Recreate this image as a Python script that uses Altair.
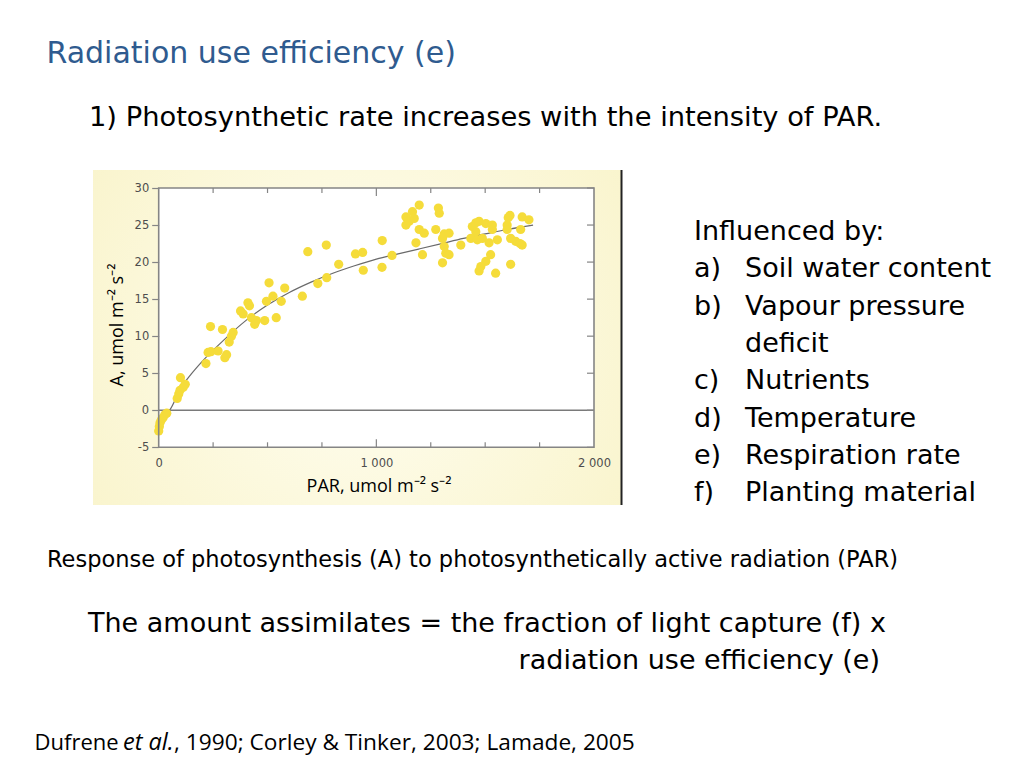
import altair as alt
import pandas as pd

# ---------------- data ----------------
par = [0, 3, 6, 12, 20, 28, 37,
       85, 92, 98, 113, 122, 100,
       217, 227, 240, 238, 273, 293, 304, 312, 324, 334, 342, 376, 388, 410, 417, 426,
       441, 449, 487, 495, 507, 525, 540, 563, 579, 660,
       685, 731, 770, 772, 827, 904, 937, 940, 1027, 1026, 1072,
       1136, 1136, 1151, 1166, 1174, 1197, 1197, 1220, 1182, 1212, 1273, 1285, 1289,
       1304, 1312, 1312, 1319, 1334, 1334, 1304, 1388, 1441, 1457, 1472, 1503, 1533,
       1457, 1434, 1464, 1487, 1518, 1556, 1533, 1525, 1503, 1480, 1472, 1548,
       1601, 1606, 1614, 1601, 1617, 1640, 1660, 1670, 1617, 1670, 1701, 1663]
photo = [-2.8, -2.2, -1.7, -1.3, -1.0, -0.6, -0.4,
         1.6, 2.2, 2.7, 3.1, 3.5, 4.4,
         6.3, 7.8, 7.9, 11.3, 8.0, 10.9, 7.1, 7.5, 9.2, 10.0, 10.5, 13.4, 13.0, 14.5, 14.1, 12.5,
         11.6, 12.1, 12.1, 14.7, 17.2, 15.4, 12.5, 14.7, 16.5, 15.4,
         21.4, 17.1, 22.3, 17.9, 19.7, 21.1, 21.3, 18.9, 22.9, 19.3, 20.9,
         26.1, 25.0, 25.5, 26.8, 25.9, 27.7, 24.4, 23.9, 22.6, 21.0, 24.4, 27.3, 26.6,
         23.2, 23.8, 22.1, 21.2, 23.9, 21.0, 19.9, 22.3, 24.8, 25.3, 25.5, 25.2, 25.0,
         24.1, 23.2, 23.0, 23.2, 22.6, 23.0, 24.4, 21.0, 20.1, 19.4, 18.8, 18.5,
         25.0, 26.0, 26.3, 24.4, 23.2, 22.8, 22.5, 22.3, 19.7, 26.1, 25.7, 24.4]

curve_par = [30, 50, 100, 150, 200, 300, 400, 500, 600, 700, 800, 900, 1000,
             1100, 1200, 1300, 1400, 1500, 1600, 1720]
curve_a = [-0.5, 0.0, 2.9, 4.9, 6.6, 9.5, 12.1, 14.2, 15.9, 17.3, 18.5, 19.5, 20.4,
           21.1, 21.8, 22.5, 23.2, 23.8, 24.4, 25.0]

x_label_values = [0, 1000, 2000]
x_label_texts = ["0", "1 000", "2 000"]
x_minor_ticks = [250, 500, 750, 1250, 1500, 1750]
x_major_ticks = [1000]
y_tick_values = [-5, 0, 5, 10, 15, 20, 25, 30]
zero_line = [0]

title_text = "Radiation use efficiency (e)"
subtitle_text = "1) Photosynthetic rate increases with the intensity of PAR."
list_head = "Influenced by:"
list_marks = ["a)", "b)", "", "c)", "d)", "e)", "f)"]
list_items = ["Soil water content", "Vapour pressure", "deficit", "Nutrients",
              "Temperature", "Respiration rate", "Planting material"]
caption_text = "Response of photosynthesis (A) to photosynthetically active radiation (PAR)"
eq_line1 = "The amount assimilates = the fraction of light capture (f) x"
eq_line2 = "radiation use efficiency (e)"
cite_parts = ["Dufrene ", "et al.", ", 1990; Corley & Tinker, 2003; Lamade, 2005"]
y_title = "A, umol m\u207b\u00b2 s\u207b\u00b2"
x_title = "PAR, umol m\u207b\u00b2 s\u207b\u00b2"

# ---------------- layout (page pixels) ----------------
X0, Y0 = 158.7, 188.0        # plot origin on the page
W, H = 435.3, 259.3          # plot area
TOTAL_W, TOTAL_H = 1000, 750


def X(px):
    return px - X0


def Y(py):
    return py - Y0


one = pd.DataFrame({"k": [0]})
xs = alt.Scale(domain=[0, 2000], nice=False, zero=False)
ys = alt.Scale(domain=[-5, 30], nice=False, zero=False)

SANS = "DejaVu Sans"
CAL = "Open Sans"
GRAY = "#858585"
LABEL = "#4d4d4d"

label_expr = " : ".join(
    f"datum.value == {v} ? '{t}'" for v, t in zip(x_label_values[:-1], x_label_texts[:-1])
) + f" : '{x_label_texts[-1]}'"

x_axis = alt.Axis(values=x_label_values, labelExpr=label_expr, ticks=False, domain=False,
                  grid=False, labelFont=SANS, labelFontSize=11.5, labelColor=LABEL,
                  labelPadding=10, labelFlush=False, title="", zindex=5)
y_axis = alt.Axis(values=y_tick_values, labelExpr="datum.value + ''", tickSize=7,
                  tickColor=GRAY, tickWidth=1.2, domain=False, grid=False, labelFont=SANS,
                  labelFontSize=11.5, labelColor=LABEL, labelPadding=3, labelFlush=False,
                  title="", zindex=5)


def XF(field):
    return alt.X(field, scale=xs, axis=x_axis)


def YF(field):
    return alt.Y(field, scale=ys, axis=y_axis)


def txt(s, x, y, size, font=SANS, color="#000000", align="left", angle=0,
        style="normal", baseline="alphabetic"):
    return alt.Chart(one).mark_text(
        text=s, font=font, fontSize=size, color=color, align=align, angle=angle,
        fontStyle=style, baseline=baseline
    ).encode(x=alt.value(X(x)), y=alt.value(Y(y)))


# background panel of the figure
panel = alt.Chart(one).mark_rect(
    color={"gradient": "radial", "x1": 0.5, "y1": 0.5, "r1": 0.0,
           "x2": 0.5, "y2": 0.5, "r2": 0.75,
           "stops": [{"offset": 0, "color": "#fffef2"},
                     {"offset": 1, "color": "#f8f2c4"}]}
).encode(x=alt.value(X(93)), x2=alt.value(X(621)), y=alt.value(Y(170)), y2=alt.value(Y(505)))
edge = alt.Chart(one).mark_rule(color="#222222", strokeWidth=2).encode(
    x=alt.value(X(621.5)), y=alt.value(Y(170)), y2=alt.value(Y(505)))
plotbg = alt.Chart(one).mark_rect(color="white").encode(
    x=alt.value(0), x2=alt.value(W), y=alt.value(0), y2=alt.value(H))

zero = alt.Chart(pd.DataFrame({"v": zero_line})).mark_rule(color="#7a7a7a", strokeWidth=1.6).encode(
    y=YF("v:Q"), x=alt.value(0), x2=alt.value(W))

curve = alt.Chart(pd.DataFrame({"par": curve_par, "a": curve_a})).mark_line(
    color="#6a6a6a", strokeWidth=1.2, interpolate="monotone"
).encode(x=XF("par:Q"), y=YF("a:Q"))

points = alt.Chart(pd.DataFrame({"par": par, "a": photo})).mark_circle(
    color="#F5DC3A", opacity=1, size=85
).encode(x=XF("par:Q"), y=YF("a:Q"))

frame = alt.Chart(one).mark_rect(fillOpacity=0, stroke=GRAY, strokeWidth=1.6).encode(
    x=alt.value(0), x2=alt.value(W), y=alt.value(0), y2=alt.value(H))


def xticks(vals, y1, y2):
    return alt.Chart(pd.DataFrame({"par": vals})).mark_rule(color=GRAY, strokeWidth=1.2).encode(
        x=XF("par:Q"), y=alt.value(y1), y2=alt.value(y2))


ticks = [
    xticks(x_minor_ticks, 0, 5), xticks(x_major_ticks, 0, 8),
    xticks(x_minor_ticks, H, H - 5), xticks(x_major_ticks, H, H - 8),
    alt.Chart(pd.DataFrame({"a": y_tick_values})).mark_rule(color=GRAY, strokeWidth=1.2).encode(
        y=YF("a:Q"), x=alt.value(W), x2=alt.value(W - 7)),
]

texts = [
    txt(title_text, 46.5, 62.5, 30, color="#2f5b8f"),
    txt(subtitle_text, 89, 126, 27.3),
    txt(list_head, 694, 240, 27),
    txt(caption_text, 47, 567, 22.5),
    txt(eq_line1, 88, 632, 27),
    txt(eq_line2, 880, 669, 27, align="right"),
    txt(cite_parts[0], 34.6, 750, 22, font=CAL),
    txt(cite_parts[1], 123, 750, 23.5, font=CAL, style="italic"),
    txt(cite_parts[2], 174, 750, 22.7, font=CAL),
    txt(y_title, 118, 325, 18, font=CAL, angle=270, align="center", baseline="middle"),
    txt(x_title, 379, 487, 18, font=CAL, align="center", baseline="middle"),
]
for i, (m, it) in enumerate(zip(list_marks, list_items)):
    yb = 277.3 + i * 37.33
    if m:
        texts.append(txt(m, 694, yb, 27))
    texts.append(txt(it, 745, yb, 27))

chart = alt.layer(
    panel, edge, plotbg, zero, curve, points, frame, *ticks, *texts
).properties(
    width=W, height=H,
    autosize=alt.AutoSizeParams(type="none"),
    padding={"left": X0 - 8, "top": Y0 - 8,
             "right": TOTAL_W - (X0 - 8) - W, "bottom": TOTAL_H - (Y0 - 8) - H},
    background="white",
).configure_view(strokeWidth=0)

chart.save("out.html", embed_options={"renderer": "svg", "actions": False})
